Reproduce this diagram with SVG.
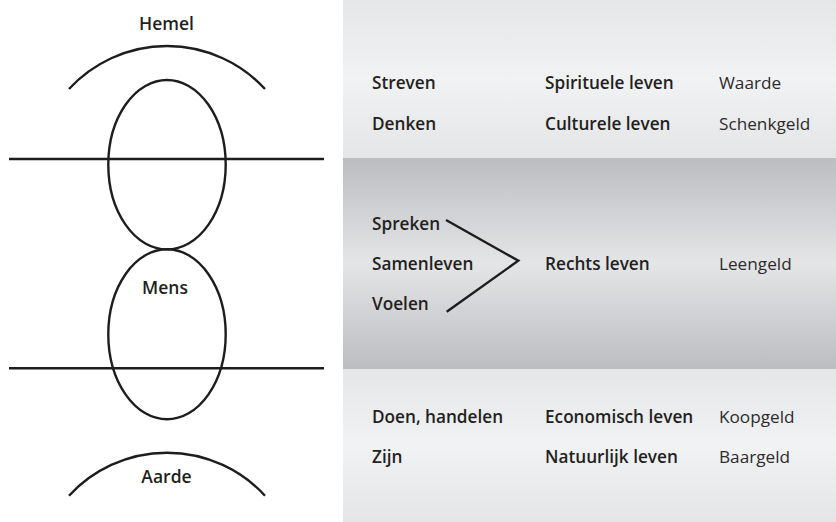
<svg xmlns="http://www.w3.org/2000/svg" width="836" height="522" viewBox="0 0 836 522">
<defs>
<linearGradient id="gLight" x1="0" y1="0" x2="0" y2="1">
<stop offset="0" stop-color="#e5e6e8"/>
<stop offset="0.5" stop-color="#f1f2f4"/>
<stop offset="1" stop-color="#e4e5e7"/>
</linearGradient>
<linearGradient id="gDark" x1="0" y1="0" x2="0" y2="1">
<stop offset="0" stop-color="#bcbdc0"/>
<stop offset="0.5" stop-color="#e4e5e7"/>
<stop offset="1" stop-color="#bcbdc0"/>
</linearGradient>
<style>
.ln{fill:none;stroke:#1f1c1d;stroke-width:2.4}
.lbl{font-family:"Open Sans","Noto Sans",sans-serif;font-size:17.5px;fill:#231f20;font-weight:600;text-anchor:middle}
.b{font-family:"Open Sans","Noto Sans",sans-serif;font-size:17.2px;fill:#231f20;font-weight:600}
.r{font-family:"Open Sans","Noto Sans",sans-serif;font-size:17.2px;fill:#2e2b2c;font-weight:400}
</style>
</defs>
<rect width="836" height="522" fill="#ffffff"/>
<g id="panel">
<rect x="343" y="0" width="493" height="158" fill="url(#gLight)"/>
<rect x="343" y="158" width="493" height="211" fill="url(#gDark)"/>
<rect x="343" y="369" width="493" height="153" fill="url(#gLight)"/>
</g>
<g id="hemel">
<path class="ln" d="M69,89 A133.2,133.2 0 0 1 265,89"/>
<text class="lbl" x="166.5" y="30">Hemel</text>
</g>
<g id="upper-ellipse"><ellipse class="ln" cx="167" cy="164.7" rx="58.7" ry="84.7"/></g>
<g id="mens">
<ellipse class="ln" cx="167" cy="334.3" rx="58.7" ry="85"/>
<text class="lbl" x="165" y="293.5">Mens</text>
</g>
<g id="aarde">
<path class="ln" d="M69,495.7 A133.2,133.2 0 0 1 265,495.7"/>
<text class="lbl" x="166.5" y="482.5">Aarde</text>
</g>
<g id="connectors">
<line class="ln" x1="9" y1="159" x2="324" y2="159"/>
<line class="ln" x1="9" y1="368.3" x2="324" y2="368.3"/>
<polyline class="ln" points="446,220 518.3,260.7 446.7,311.7"/>
</g>
<g id="row-streven">
<text class="b" x="372" y="89.3">Streven</text>
<text class="b" x="545" y="89.3">Spirituele leven</text>
<text class="r" x="719" y="89.3">Waarde</text>
</g>
<g id="row-denken">
<text class="b" x="372" y="130">Denken</text>
<text class="b" x="545" y="130">Culturele leven</text>
<text class="r" x="719" y="130">Schenkgeld</text>
</g>
<g id="row-rechts">
<text class="b" x="372" y="230">Spreken</text>
<text class="b" x="372" y="270">Samenleven</text>
<text class="b" x="372" y="310">Voelen</text>
<text class="b" x="545" y="270">Rechts leven</text>
<text class="r" x="719" y="270">Leengeld</text>
</g>
<g id="row-doen">
<text class="b" x="372" y="423.3">Doen, handelen</text>
<text class="b" x="545" y="423.3">Economisch leven</text>
<text class="r" x="719" y="423.3">Koopgeld</text>
</g>
<g id="row-zijn">
<text class="b" x="372" y="463.3">Zijn</text>
<text class="b" x="545" y="463.3">Natuurlijk leven</text>
<text class="r" x="719" y="463.3">Baargeld</text>
</g>
</svg>
